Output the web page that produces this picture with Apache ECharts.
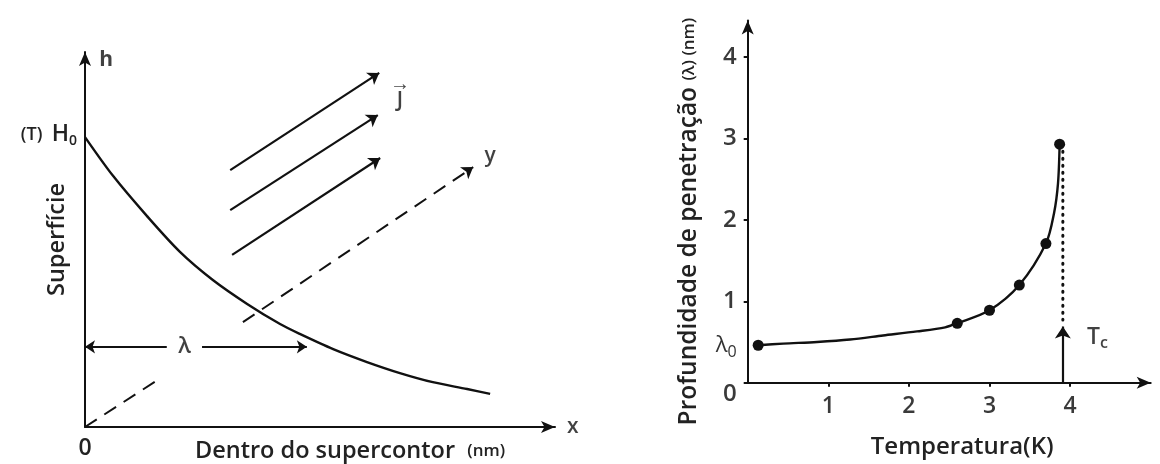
<!DOCTYPE html>
<html>
<head>
<meta charset="utf-8">
<title>Profundidade de penetração</title>
<script src="https://cdn.jsdelivr.net/npm/echarts@6/dist/echarts.min.js"></script>
<style>
  html, body { margin: 0; padding: 0; background: #fff; }
  #chart { width: 1160px; height: 464px; }
</style>
</head>
<body>
<div id="chart"></div>
<script>
// left panel: field decay inside the superconductor (arbitrary units 0-100)
const decayX = [0, 5.96, 13.2, 20.2, 27.2, 34.5, 41.5, 45.7, 52.8, 60.0, 67.0, 74.0, 81.3, 86.2];
const decayH = [76.3, 66.1, 55.5, 46.1, 38.7, 32.4, 27.1, 24.5, 20.5, 17.1, 14.2, 11.8, 10.0, 8.7];
const currentArrows = [
  [[30.9, 67.6], [62.6, 93.2]],
  [[30.9, 57.1], [62.3, 82.1]],
  [[31.3, 45.3], [62.8, 70.8]]
];
const yDirSegments = [
  [[0, 0], [15.5, 12.4]],
  [[33.6, 27.6], [82.6, 68.4]]
];
const lambdaArrows = [
  [[17.4, 21.1], [0, 21.1]],
  [[24.9, 21.1], [47.2, 21.1]]
];
const h0Value = 77;

// right panel: penetration depth vs temperature
const tempCurve = [0.13, 0.44, 0.86, 1.27, 1.68, 2.10, 2.45, 2.60, 3.0, 3.37, 3.7, 3.8, 3.85, 3.87];
const lambdaCurve = [0.46, 0.48, 0.50, 0.53, 0.58, 0.63, 0.68, 0.73, 0.89, 1.2, 1.71, 2.08, 2.45, 2.93];
const tempPoints = [0.13, 2.6, 3.0, 3.37, 3.7, 3.87];
const lambdaPoints = [0.46, 0.73, 0.89, 1.2, 1.71, 2.93];
const tcValue = 3.91;
const tcDotted = [2.93, 0.77];
const tcArrow = [0, 0.69];
const lambda0 = 0.45;
const tempTicks = [1, 2, 3, 4];
const depthTicks = [0, 1, 2, 3, 4];

const ink = "#111";
const font = "Open Sans";

function zip(xs, ys) {
  return xs.map((x, i) => [x, ys[i]]);
}

function arrowLine() {
  return {
    onZero: false,
    symbol: ["none", "arrow"],
    symbolSize: [9, 14],
    lineStyle: { color: ink, width: 2 }
  };
}

function textMark(gridIndex, value, formatter, rich, position) {
  return {
    type: "scatter",
    xAxisIndex: gridIndex,
    yAxisIndex: gridIndex,
    symbolSize: 0,
    clip: false,
    silent: true,
    data: [value],
    label: {
      show: true,
      position: position || "inside",
      distance: 0,
      formatter: formatter,
      color: ink,
      fontFamily: font,
      rich: rich
    }
  };
}

const chart = echarts.init(document.getElementById("chart"));

chart.setOption({
  backgroundColor: "#fff",
  animation: false,
  textStyle: { fontFamily: font },
  grid: [
    { left: 85, top: 52, width: 470, height: 375, outerBoundsMode: "none" },
    { left: 747.7, top: 20.5, width: 403, height: 362.2, outerBoundsMode: "none" }
  ],
  xAxis: [
    {
      type: "value",
      gridIndex: 0,
      min: 0,
      max: 100,
      axisLine: arrowLine(),
      axisTick: { show: false },
      splitLine: { show: false },
      axisLabel: {
        customValues: [0],
        formatter: "0",
        fontSize: 23,
        fontWeight: 600,
        color: "#222",
        margin: 10
      },
      name: "Dentro do supercontor  {s|(nm)}",
      nameLocation: "middle",
      nameGap: 12,
      nameMoveOverlap: false,
      nameTextStyle: {
        fontSize: 23.5,
        fontWeight: 600,
        color: "#222",
        padding: [0, 0, 0, 60],
        rich: { s: { fontSize: 17, fontWeight: 600, color: "#222" } }
      }
    },
    {
      type: "value",
      gridIndex: 1,
      min: 0,
      max: 5,
      axisLine: arrowLine(),
      axisTick: { customValues: tempTicks, length: 4, lineStyle: { color: ink, width: 2 } },
      splitLine: { show: false },
      axisLabel: {
        customValues: tempTicks,
        fontSize: 23,
        fontWeight: 600,
        color: "#3a3a3a",
        margin: 12
      },
      name: "Temperatura(K)",
      nameLocation: "middle",
      nameGap: 52,
      nameMoveOverlap: false,
      nameTextStyle: {
        fontSize: 24,
        fontWeight: 600,
        color: "#222",
        padding: [0, 0, 0, 26]
      }
    }
  ],
  yAxis: [
    {
      type: "value",
      gridIndex: 0,
      min: 0,
      max: 98.7,
      axisLine: arrowLine(),
      axisTick: { show: false },
      splitLine: { show: false },
      axisLabel: {
        customValues: [h0Value],
        formatter: "{t|(T)}   {h|H}{s|0}",
        margin: 8,
        rich: {
          t: { fontSize: 18, fontWeight: 600, color: "#222", lineHeight: 30 },
          h: { fontSize: 23, fontWeight: 600, color: "#222", lineHeight: 30 },
          s: { fontSize: 14, fontWeight: 600, color: "#222", lineHeight: 30, padding: [14, 0, 0, 0] }
        }
      },
      name: "Superfície",
      nameLocation: "middle",
      nameRotate: 90,
      nameGap: 16,
      nameMoveOverlap: false,
      nameTextStyle: { fontSize: 23.5, fontWeight: 600, color: "#222" }
    },
    {
      type: "value",
      gridIndex: 1,
      min: 0,
      max: 4.45,
      axisLine: arrowLine(),
      axisTick: { customValues: depthTicks, length: 4, lineStyle: { color: ink, width: 2 } },
      splitLine: { show: false },
      axisLabel: {
        customValues: [0, lambda0, 1, 2, 3, 4],
        formatter: function (v) {
          if (v === lambda0) return "{l|λ}{s|0}";
          if (v === 0) return "{z|0}";
          return String(v);
        },
        fontSize: 24,
        fontWeight: 600,
        color: "#3a3a3a",
        margin: 11,
        rich: {
          l: { fontSize: 22, fontWeight: "normal", color: "#333", lineHeight: 30 },
          s: { fontSize: 16, fontWeight: "normal", color: "#333", lineHeight: 30, padding: [12, 0, 0, 0] },
          z: { fontSize: 24, fontWeight: 600, color: "#3a3a3a", padding: [22, 0, 0, 0] }
        }
      },
      name: "Profundidade de penetração {s|(λ) (nm)}",
      nameLocation: "middle",
      nameRotate: 90,
      nameGap: 46,
      nameMoveOverlap: false,
      nameTextStyle: {
        fontSize: 24.5,
        fontWeight: 600,
        color: "#222",
        padding: [0, 40, 0, 0],
        rich: { s: { fontSize: 17, fontWeight: 600, color: "#222" } }
      }
    }
  ],
  series: [
    // left panel
    {
      type: "line",
      xAxisIndex: 0,
      yAxisIndex: 0,
      data: zip(decayX, decayH),
      smooth: 0.3,
      showSymbol: false,
      lineStyle: { color: ink, width: 2.4 }
    },
    {
      type: "lines",
      coordinateSystem: "cartesian2d",
      xAxisIndex: 0,
      yAxisIndex: 0,
      symbol: ["none", "arrow"],
      symbolSize: 11,
      lineStyle: { color: ink, width: 2.2, opacity: 1 },
      data: currentArrows.map((c) => ({ coords: c }))
    },
    {
      type: "lines",
      coordinateSystem: "cartesian2d",
      xAxisIndex: 0,
      yAxisIndex: 0,
      symbol: ["none", "none"],
      lineStyle: { color: ink, width: 2, type: [14, 9], opacity: 1 },
      data: [{ coords: yDirSegments[0] }]
    },
    {
      type: "lines",
      coordinateSystem: "cartesian2d",
      xAxisIndex: 0,
      yAxisIndex: 0,
      symbol: ["none", "arrow"],
      symbolSize: 11,
      lineStyle: { color: ink, width: 2, type: [14, 9], opacity: 1 },
      data: [{ coords: yDirSegments[1] }]
    },
    {
      type: "lines",
      coordinateSystem: "cartesian2d",
      xAxisIndex: 0,
      yAxisIndex: 0,
      symbol: ["none", "arrow"],
      symbolSize: 10,
      lineStyle: { color: ink, width: 2, opacity: 1 },
      data: lambdaArrows.map((c) => ({ coords: c }))
    },
    textMark(0, [21.2, 21.1], "{l|λ}", { l: { fontSize: 22, fontWeight: 600, color: ink } }),
    textMark(0, [67, 87.4], "{a|→}\n{j|J}", {
      a: { fontSize: 20, fontWeight: 600, color: ink, lineHeight: 12 },
      j: { fontSize: 21, fontWeight: 600, color: ink, lineHeight: 22 }
    }),
    textMark(0, [86.2, 71.3], "{y|y}", { y: { fontSize: 21, fontWeight: 600, color: ink } }),
    textMark(0, [4.5, 96.6], "{h|h}", { h: { fontSize: 21, fontWeight: 700, color: ink } }),
    textMark(0, [103.8, 0], "{x|x}", { x: { fontSize: 21, fontWeight: 600, color: ink } }),

    // right panel
    {
      type: "line",
      xAxisIndex: 1,
      yAxisIndex: 1,
      data: zip(tempCurve, lambdaCurve),
      smooth: 0.3,
      showSymbol: false,
      lineStyle: { color: ink, width: 2.4 }
    },
    {
      type: "scatter",
      xAxisIndex: 1,
      yAxisIndex: 1,
      data: zip(tempPoints, lambdaPoints),
      symbol: "circle",
      symbolSize: 11,
      itemStyle: { color: ink, opacity: 1 }
    },
    {
      type: "line",
      xAxisIndex: 1,
      yAxisIndex: 1,
      data: tcDotted.map((v) => [tcValue, v]),
      showSymbol: false,
      lineStyle: { color: ink, width: 3, type: [1, 6], cap: "round" }
    },
    {
      type: "lines",
      coordinateSystem: "cartesian2d",
      xAxisIndex: 1,
      yAxisIndex: 1,
      symbol: ["none", "arrow"],
      symbolSize: 12,
      lineStyle: { color: ink, width: 2.2, opacity: 1 },
      data: [{ coords: tcArrow.map((v) => [tcValue, v]) }]
    },
    textMark(1, [4.21, 0.55], "{t|T}{c|c}", {
      t: { fontSize: 23, fontWeight: 600, color: ink, lineHeight: 30 },
      c: { fontSize: 16, fontWeight: 600, color: ink, lineHeight: 30, padding: [12, 0, 0, 0] }
    }, "right")
  ]
});
</script>
</body>
</html>
